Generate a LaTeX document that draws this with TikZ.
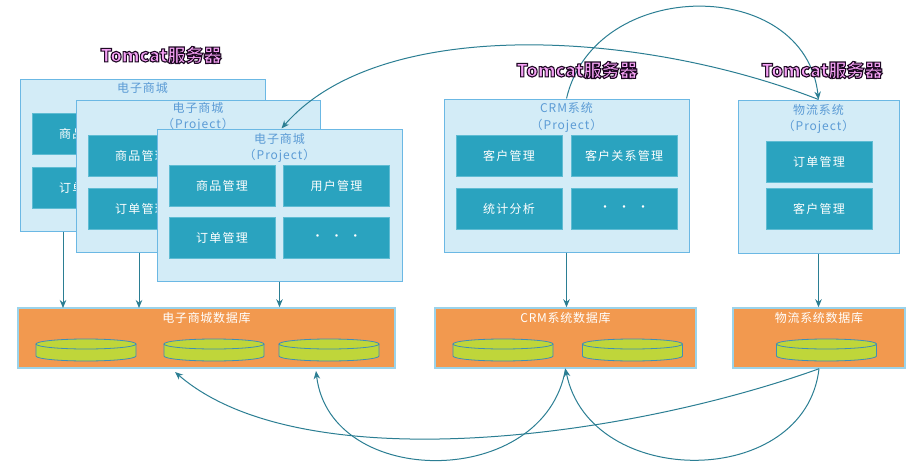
\documentclass[tikz,border=0pt]{standalone}
\usepackage{fontspec}
\setmainfont{Noto Sans CJK SC}
\usetikzlibrary{arrows.meta}
\definecolor{contfill}{HTML}{D3ECF7}
\definecolor{contline}{HTML}{6BB8E4}
\definecolor{titlec}{HTML}{5B9BD5}
\definecolor{innerfill}{HTML}{2AA3BF}
\definecolor{innerline}{HTML}{5FBCD3}
\definecolor{dbfill}{HTML}{F2994F}
\definecolor{dbline}{HTML}{9BD3EA}
\definecolor{diskfill}{HTML}{BFD63A}
\definecolor{diskline}{HTML}{3F8FB5}
\definecolor{arrowc}{HTML}{2B7E93}
\definecolor{tompink}{HTML}{F6A2F6}
% pink text with a dark outline: fill + stroke render mode
\newcommand\outl[1]{\special{pdf:literal direct 2 Tr 1.1 w 0.12 0.04 0.14 RG}#1\special{pdf:literal direct 0 Tr}}
\tikzset{
  cont/.style={draw=contline, fill=contfill, line width=1pt, inner sep=0pt},
  ctitle/.style={text=titlec, inner sep=0pt, font=\fontsize{12}{14}\selectfont\addfontfeature{LetterSpace=8}},
  innerbox/.style={draw=innerline, fill=innerfill, line width=0.6pt, text=white, minimum width=106pt, minimum height=41pt, inner sep=0pt, font=\fontsize{12}{14}\selectfont\addfontfeature{LetterSpace=10}},
  dbbox/.style={draw=dbline, fill=dbfill, line width=1.5pt, minimum height=60pt, inner sep=0pt},
  dbtitle/.style={text=white, inner sep=0pt, font=\fontsize{12}{14}\selectfont\addfontfeature{LetterSpace=6}},
  tomlabel/.style={text=tompink, inner sep=0pt, font=\fontsize{18}{20}\selectfont\bfseries},
  arr/.style={draw=arrowc, line width=1pt, -{Stealth[length=8pt,width=6.5pt]}},
  disk/.pic={
    \draw[diskline, fill=diskfill, line width=0.8pt] (-50,0) -- (-50,12) arc[start angle=180,end angle=0,x radius=50,y radius=5] -- (50,0);
    \draw[diskline, fill=diskfill, line width=0.8pt] (0,0) ellipse[x radius=50,y radius=5];
  }
}
\begin{document}
\begin{tikzpicture}[x=1pt,y=-1pt]
\useasboundingbox[fill=white] (0,0) rectangle (923,471);
% --- left group: three stacked projects
\node[cont, minimum width=245pt, minimum height=152pt] (A) at (142.5,155) {};
\node[ctitle] (At) at (142.5,88) {电子商城};
\node[innerbox] (a1) at (85,133.5) {商品管理};
\node[innerbox] (a2) at (85,187.5) {订单管理};
\node[cont, minimum width=244pt, minimum height=152pt] (B) at (198,176) {};
\node[ctitle] (Bt) at (198,108) {电子商城};
\node[ctitle] (Bp) at (198,125) {（Project）};
\node[innerbox] (b1) at (141,155.5) {商品管理};
\node[innerbox] (b2) at (141,208.5) {订单管理};
\node[cont, minimum width=245pt, minimum height=152pt] (C) at (279.5,205) {};
\node[ctitle] (Ct) at (279.5,139) {电子商城};
\node[ctitle] (Cp) at (279.5,156) {（Project）};
\node[innerbox] (c1) at (222,185.5) {商品管理};
\node[innerbox] (c2) at (336.5,185.5) {用户管理};
\node[innerbox] (c3) at (222,238) {订单管理};
\node[innerbox] (c4) at (336.5,238) {·\hspace{7pt}·\hspace{7pt}·};
% --- CRM
\node[cont, minimum width=245pt, minimum height=153pt] (crm) at (566.5,175.5) {};
\node[ctitle] (crmt) at (566.5,108) {CRM系统};
\node[ctitle] (crmp) at (566.5,126) {（Project）};
\node[innerbox] (r1) at (509,155.5) {客户管理};
\node[innerbox] (r2) at (624,155.5) {客户关系管理};
\node[innerbox] (r3) at (509,208.5) {统计分析};
\node[innerbox] (r4) at (624,208.5) {·\hspace{7pt}·\hspace{7pt}·};
% --- logistics
\node[cont, minimum width=161pt, minimum height=153pt] (lg) at (818.5,176.5) {};
\node[ctitle] (lgt) at (818.5,110) {物流系统};
\node[ctitle] (lgp) at (818.5,127) {（Project）};
\node[innerbox] (l1) at (819,161.5) {订单管理};
\node[innerbox] (l2) at (819,208.5) {客户管理};
% --- databases
\node[dbbox, minimum width=377pt] (db1) at (206.5,338) {};
\node[dbtitle] (db1t) at (206.5,318) {电子商城数据库};
\node[dbbox, minimum width=261pt] (db2) at (565.5,338) {};
\node[dbtitle] (db2t) at (565.5,318) {CRM系统数据库};
\node[dbbox, minimum width=172pt] (db3) at (819,338) {};
\node[dbtitle] (db3t) at (819,318) {物流系统数据库};
\pic at (86,344) {disk};
\pic at (214,344) {disk};
\pic at (329,344) {disk};
\pic at (503,344) {disk};
\pic at (632.5,344) {disk};
\pic at (826.5,344) {disk};
% --- vertical connectors
\coordinate (va) at (63,308);
\coordinate (vb) at (139,308);
\draw[arr] (A.south -| va) -- (va);
\draw[arr] (B.south -| vb) -- (vb);
\draw[arr] (C.south) -- (C.south |- db1.north);
\draw[arr] (crm.south) -- (crm.south |- db2.north);
\draw[arr] (lg.south) -- (lg.south |- db3.north);
% --- top curves
\draw[arr] (crm.north) .. controls (595,-24) and (805,-24) .. (lg.north);
\draw[arr] (lg.north) .. controls (640,30) and (380,15) .. ([xshift=2pt]C.north);
% --- bottom curves
\coordinate (e1) at (175,372);
\coordinate (e2) at (316,371);
\draw[arr] (db3.south) .. controls (620,440) and (300,480) .. (e1);
\draw[arr] (db2.south) .. controls (545,490) and (330,490) .. (e2);
\draw[arr] (db3.south) .. controls (805,490) and (590,490) .. (db2.south);
% --- server labels
\node[tomlabel] (t1) at (161,55) {\outl{Tomcat服务器}};
\node[tomlabel] (t2) at (577,70) {\outl{Tomcat服务器}};
\node[tomlabel] (t3) at (822,70) {\outl{Tomcat服务器}};
\end{tikzpicture}
\end{document}
